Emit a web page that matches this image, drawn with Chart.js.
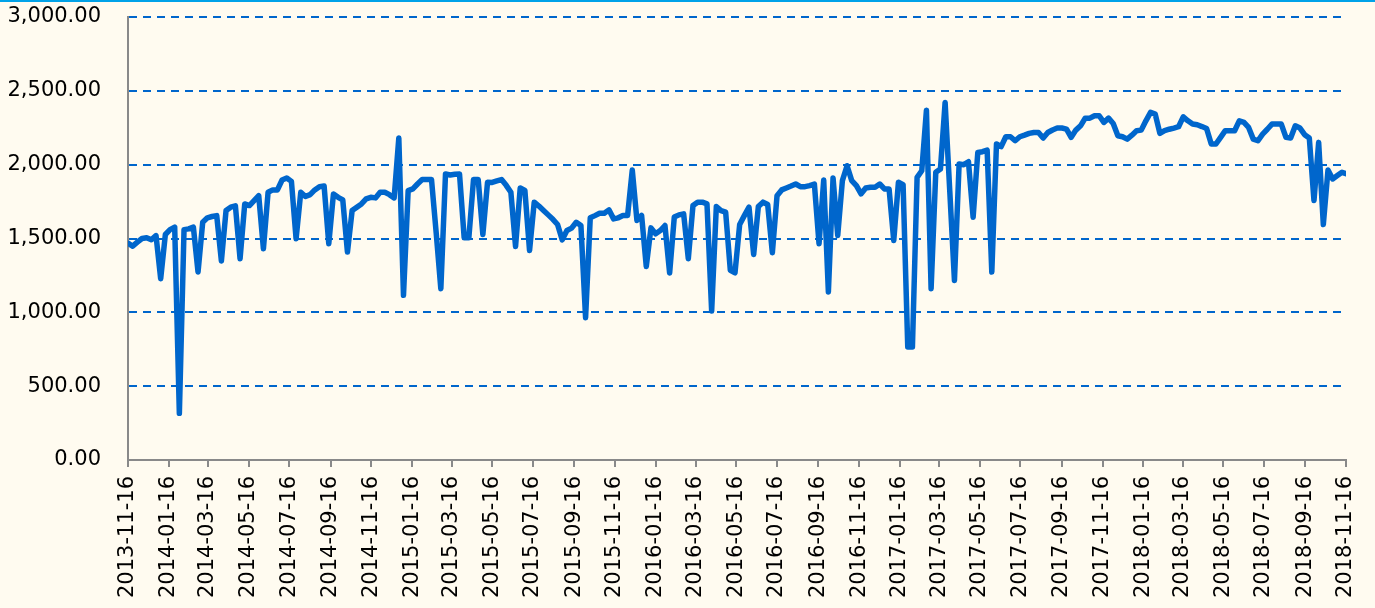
<!DOCTYPE html>
<html>
<head>
<meta charset="utf-8">
<script src="https://cdn.jsdelivr.net/npm/chart.js@4"></script>
<style>
  html, body { margin: 0; padding: 0; background: #FFFBF0; }
  #wrap { width: 1375px; height: 608px; }
</style>
</head>
<body>
<div id="wrap"><canvas id="chart" width="1375" height="608"></canvas></div>
<script>
// first week of the series, one value per week after that
const startDate = '2013-11-16';
const endDate = '2018-11-16';

const weeklyValues = [
  1469, 1448, 1475, 1500, 1505, 1491, 1520, 1228, 1527, 1560,
  1577, 316, 1560, 1565, 1577, 1273, 1610, 1640, 1649, 1655,
  1347, 1689, 1712, 1721, 1363, 1734, 1723, 1757, 1790, 1430,
  1813, 1829, 1829, 1896, 1910, 1887, 1498, 1813, 1784, 1797,
  1829, 1851, 1856, 1464, 1802, 1779, 1761, 1408, 1689, 1712,
  1734, 1768, 1779, 1775, 1813, 1813, 1797, 1775, 2180, 1115,
  1824, 1836, 1869, 1899, 1899, 1899, 1540, 1160, 1937, 1930,
  1935, 1937, 1505, 1505, 1899, 1899, 1527, 1881, 1880, 1890,
  1899, 1860, 1813, 1446, 1842, 1825, 1419, 1746, 1720, 1690,
  1660, 1630, 1595, 1491, 1554, 1570, 1610, 1588, 964, 1640,
  1655, 1671, 1671, 1694, 1633, 1640, 1656, 1656, 1964, 1622,
  1656, 1311, 1572, 1532, 1554, 1588, 1266, 1645, 1660, 1667,
  1363, 1723, 1746, 1746, 1734, 1009, 1716, 1689, 1678, 1284,
  1268, 1595, 1655, 1712, 1392, 1716, 1746, 1730, 1403, 1790,
  1829, 1842, 1855, 1869, 1851, 1851, 1858, 1869, 1464, 1896,
  1138, 1910, 1520, 1892, 1993, 1892, 1858, 1802, 1842, 1847,
  1847, 1869, 1836, 1836, 1487, 1881, 1865, 766, 766, 1914,
  1959, 2369, 1160, 1948, 1971, 2421, 1820, 1216, 2005, 2000,
  2020, 1644, 2083, 2088, 2099, 1273, 2140, 2122, 2189, 2189,
  2162, 2189, 2200, 2212, 2218, 2218, 2180, 2218, 2235, 2248,
  2248, 2241, 2185, 2234, 2263, 2315, 2315, 2331, 2331, 2286,
  2315, 2279, 2196, 2189, 2173, 2200, 2230, 2234, 2297, 2354,
  2342, 2212, 2230, 2240, 2248, 2257, 2324, 2297, 2275, 2270,
  2258, 2245, 2140, 2140, 2185, 2230, 2230, 2230, 2297, 2286,
  2252, 2173, 2162, 2207, 2240, 2275, 2275, 2275, 2185, 2180,
  2263, 2248, 2203, 2180, 1757, 2151, 1595, 1964, 1903, 1926,
  1948, 1937
];

const tickLabels = [
  '2013-11-16', '2014-01-16', '2014-03-16', '2014-05-16', '2014-07-16',
  '2014-09-16', '2014-11-16', '2015-01-16', '2015-03-16', '2015-05-16',
  '2015-07-16', '2015-09-16', '2015-11-16', '2016-01-16', '2016-03-16',
  '2016-05-16', '2016-07-16', '2016-09-16', '2016-11-16', '2017-01-16',
  '2017-03-16', '2017-05-16', '2017-07-16', '2017-09-16', '2017-11-16',
  '2018-01-16', '2018-03-16', '2018-05-16', '2018-07-16', '2018-09-16',
  '2018-11-16'
];

// days since startDate, so a linear axis can stand in for a date axis
function dayOf(s) {
  const p = s.split('-').map(Number);
  const q = startDate.split('-').map(Number);
  return (Date.UTC(p[0], p[1] - 1, p[2]) - Date.UTC(q[0], q[1] - 1, q[2])) / 86400000;
}

const tickDays = tickLabels.map(dayOf);
const points = weeklyValues.map((v, i) => ({ x: i * 7, y: v }));

const blue = '#0066CC';
const axisGrey = '#898989';

const backdrop = {
  id: 'backdrop',
  beforeDraw(chart) {
    const c = chart.ctx;
    c.save();
    c.fillStyle = '#FFFBF0';
    c.fillRect(0, 0, chart.width, chart.height);
    c.fillStyle = '#00A2E8';
    c.fillRect(0, 0, chart.width, 2);
    c.restore();
  }
};

Chart.defaults.font.family = '"DejaVu Sans", sans-serif';
Chart.defaults.font.size = 21;
Chart.defaults.color = '#000';

new Chart(document.getElementById('chart'), {
  type: 'line',
  data: {
    datasets: [{
      data: points,
      borderColor: blue,
      borderWidth: 5.5,
      borderJoinStyle: 'round',
      borderCapStyle: 'round',
      pointRadius: 0,
      tension: 0,
      fill: false
    }]
  },
  options: {
    responsive: false,
    animation: false,
    devicePixelRatio: 1,
    layout: { padding: { top: 17, right: 29, left: 0, bottom: 0 } },
    plugins: { legend: { display: false }, tooltip: { enabled: false } },
    scales: {
      x: {
        type: 'linear',
        min: 0,
        max: dayOf(endDate),
        afterBuildTicks: (scale) => { scale.ticks = tickDays.map(d => ({ value: d })); },
        afterFit: (scale) => {
          scale.height = 148;
          scale.paddingLeft = 0;
          scale.paddingRight = 0;
        },
        ticks: {
          autoSkip: false,
          minRotation: 90,
          maxRotation: 90,
          padding: 9,
          callback: (value, index) => tickLabels[index]
        },
        grid: {
          drawOnChartArea: false,
          drawTicks: true,
          tickLength: 7,
          color: axisGrey,
          lineWidth: 2
        },
        border: { display: true, color: axisGrey, width: 2 }
      },
      y: {
        min: 0,
        max: 3000,
        afterFit: (scale) => {
          scale.width = 128;
          scale.paddingTop = 0;
          scale.paddingBottom = 0;
        },
        ticks: {
          stepSize: 500,
          padding: 27,
          callback: (v) => v.toLocaleString('en-US', { minimumFractionDigits: 2, maximumFractionDigits: 2 })
        },
        grid: {
          drawTicks: false,
          color: (ctx) => ctx.tick && ctx.tick.value === 0 ? 'rgba(0,0,0,0)' : blue,
          lineWidth: 2
        },
        border: { display: true, color: axisGrey, width: 2, dash: [8, 6] }
      }
    }
  },
  plugins: [backdrop]
});
</script>
</body>
</html>
